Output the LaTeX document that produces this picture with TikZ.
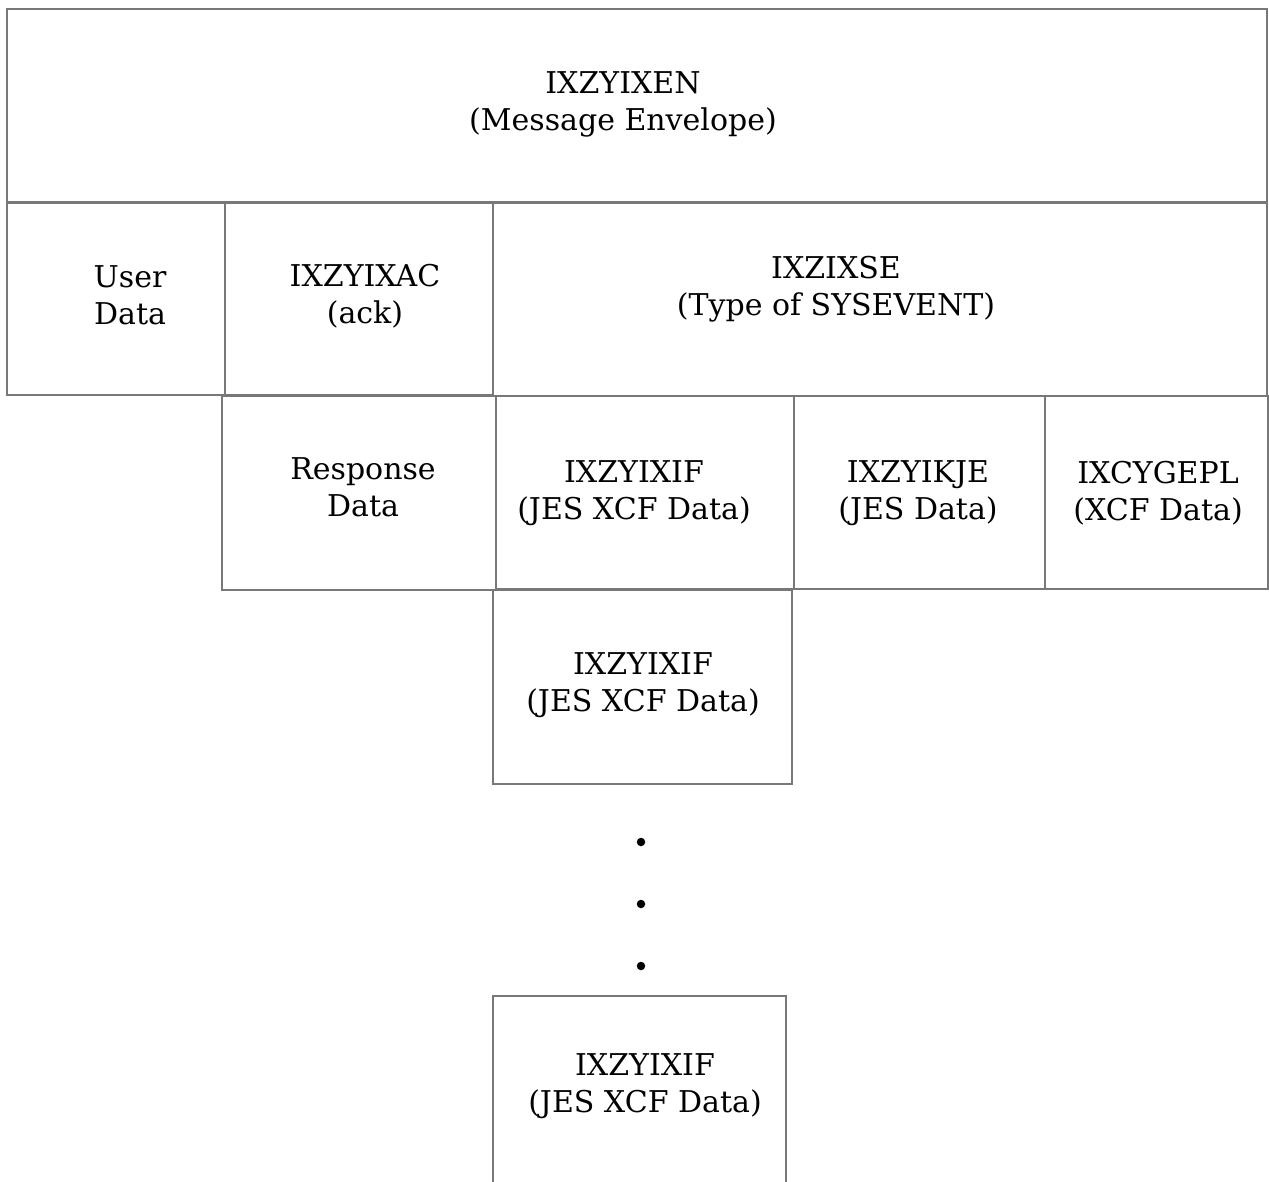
\documentclass[tikz,border=0pt]{standalone}
\usepackage{fontspec}
\setmainfont{DejaVu Serif}
\begin{document}
\begin{tikzpicture}[x=1pt,y=-1pt,
  cell/.style={draw=linegray,line width=1.7pt,rectangle,inner sep=0pt,anchor=north west},
  txt/.style={align=center,font=\fontsize{30}{37}\selectfont,inner sep=0pt},
  dot/.style={circle,fill=black,inner sep=0pt,minimum size=8.5pt}]
\definecolor{linegray}{RGB}{120,120,120}
\useasboundingbox (0,0) rectangle (1269,1182);
% envelope
\node[cell,minimum width=1260pt,minimum height=194pt] (env) at (6,8) {};
% second row
\node[cell,minimum width=218pt,minimum height=193pt] (user) at (6,201) {};
\node[cell,minimum width=268pt,minimum height=193pt] (ack) at (224,201) {};
\node[cell,minimum width=774pt,minimum height=194pt] (sysev) at (492,201) {};
% third row
\node[cell,minimum width=274pt,minimum height=194pt] (resp) at (221,395) {};
\node[cell,minimum width=298pt,minimum height=193pt] (jxcf1) at (495,395) {};
\node[cell,minimum width=251pt,minimum height=193pt] (jes) at (793,395) {};
\node[cell,minimum width=223pt,minimum height=193pt] (xcf) at (1044,395) {};
% chained JES XCF blocks
\node[cell,minimum width=299pt,minimum height=194pt] (jxcf2) at (492,589) {};
\node[cell,minimum width=293pt,minimum height=210pt] (jxcfn) at (492,995) {};
% labels
\node[txt] (tenv) at (623,104) {IXZYIXEN\\(Message Envelope)};
\node[txt] (tuser) at (130,295) {User\\Data};
\node[txt] (tack) at (365,296) {IXZYIXAC\\(ack)};
\node[txt] (tsysev) at (836,289) {IXZIXSE\\(Type of SYSEVENT)};
\node[txt] (tresp) at (363,487) {Response\\Data};
\node[txt] (tjxcf1) at (634,493) {IXZYIXIF\\(JES XCF Data)};
\node[txt] (tjes) at (918,493) {IXZYIKJE\\(JES Data)};
\node[txt] (txcf) at (1158,493) {IXCYGEPL\\(XCF Data)};
\node[txt] (tjxcf2) at (643,685) {IXZYIXIF\\(JES XCF Data)};
\node[txt] (tjxcfn) at (645,1086) {IXZYIXIF\\(JES XCF Data)};
% ellipsis between the repeated blocks
\node[dot] (d1) at (641,842) {};
\node[dot] (d2) at (641,904) {};
\node[dot] (d3) at (641,966) {};
\end{tikzpicture}
\end{document}
